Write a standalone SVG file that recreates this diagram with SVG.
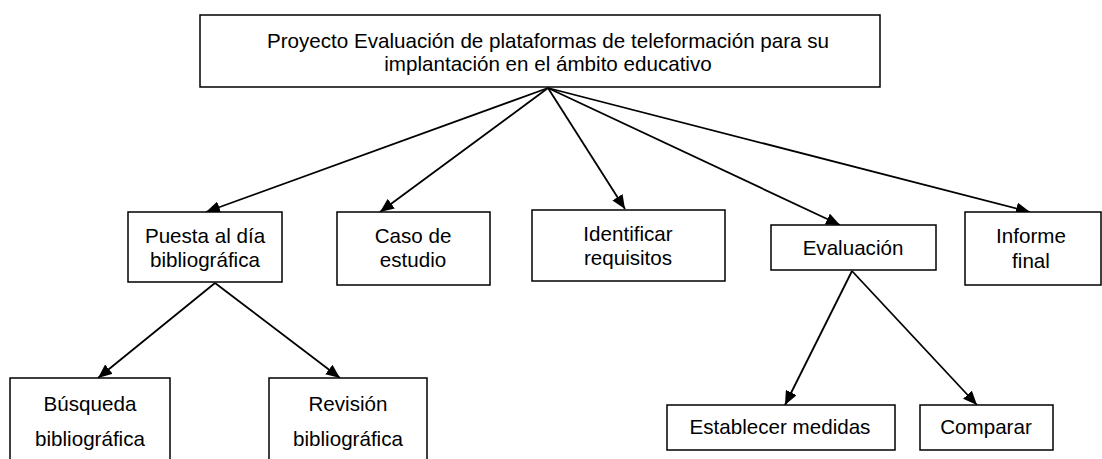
<svg xmlns="http://www.w3.org/2000/svg" width="1102" height="459" viewBox="0 0 1102 459">
<style>
.n rect{fill:#fff;stroke:#000;stroke-width:1.5}
text{font-family:"Liberation Sans",Arial,sans-serif;font-size:20.6px;fill:#000;text-anchor:middle}
.c line{stroke:#000;stroke-width:1.8;marker-end:url(#ah)}
</style>
<defs>
<marker id="ah" viewBox="0 0 14 12" refX="14" refY="6" markerWidth="14" markerHeight="12" markerUnits="userSpaceOnUse" orient="auto">
<path d="M0,0 L14,6 L0,12 Z" fill="#000"/>
</marker>
</defs>
<rect width="1102" height="459" fill="#fff"/>
<g class="c" id="connectors">
<line x1="548" y1="88" x2="206" y2="212"/>
<line x1="548" y1="88" x2="380" y2="212"/>
<line x1="548" y1="88" x2="625" y2="209"/>
<line x1="548" y1="88" x2="840" y2="225"/>
<line x1="548" y1="88" x2="1030" y2="212"/>
<line x1="215" y1="283" x2="98" y2="378"/>
<line x1="215" y1="283" x2="340" y2="378"/>
<line x1="852" y1="271" x2="785" y2="405"/>
<line x1="852" y1="271" x2="977" y2="405"/>
</g>
<g class="n" id="root">
<rect x="200" y="15" width="680" height="72"/>
<text x="548" y="48">Proyecto Evaluación de plataformas de teleformación para su</text>
<text x="548" y="71">implantación en el ámbito educativo</text>
</g>
<g class="n" id="puesta">
<rect x="128" y="212" width="154" height="70"/>
<text x="205" y="243">Puesta al día</text>
<text x="205" y="267">bibliográfica</text>
</g>
<g class="n" id="caso">
<rect x="337" y="212" width="153" height="73"/>
<text x="413" y="243">Caso de</text>
<text x="413" y="267">estudio</text>
</g>
<g class="n" id="identificar">
<rect x="532" y="210" width="193" height="71"/>
<text x="628" y="241">Identificar</text>
<text x="628" y="265">requisitos</text>
</g>
<g class="n" id="evaluacion">
<rect x="771" y="225" width="165" height="45"/>
<text x="853" y="255">Evaluación</text>
</g>
<g class="n" id="informe">
<rect x="965" y="212" width="136" height="73"/>
<text x="1031" y="243">Informe</text>
<text x="1031" y="268">final</text>
</g>
<g class="n" id="busqueda">
<rect x="10" y="378" width="160" height="90"/>
<text x="90" y="411">Búsqueda</text>
<text x="90" y="446">bibliográfica</text>
</g>
<g class="n" id="revision">
<rect x="269" y="378" width="158" height="90"/>
<text x="348" y="411">Revisión</text>
<text x="348" y="446">bibliográfica</text>
</g>
<g class="n" id="establecer">
<rect x="667" y="405" width="228" height="45"/>
<text x="780" y="434">Establecer medidas</text>
</g>
<g class="n" id="comparar">
<rect x="920" y="405" width="133" height="45"/>
<text x="986" y="434">Comparar</text>
</g>
</svg>
